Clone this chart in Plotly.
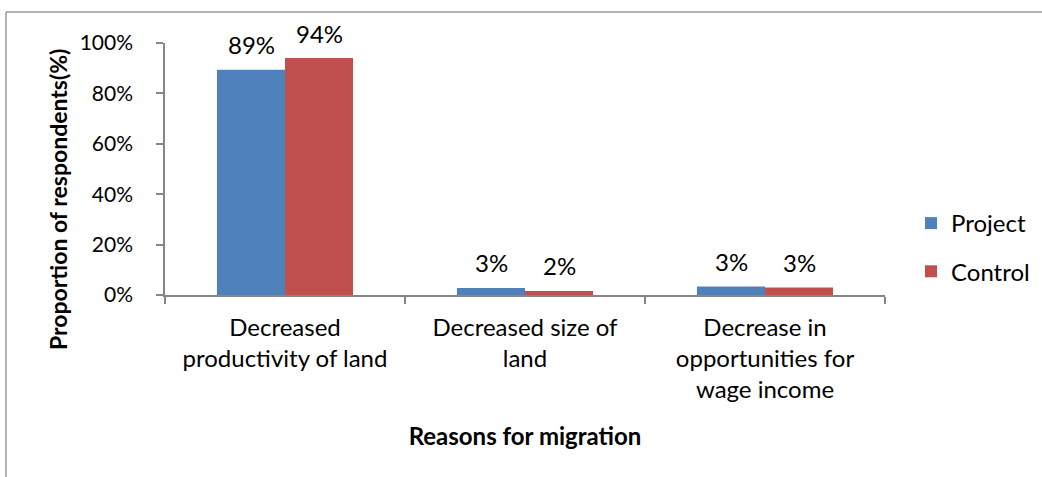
import plotly.graph_objects as go

categories = ["Decreased<br>productivity of land", "Decreased size of<br>land",
              "Decrease in<br>opportunities for<br>wage income"]
project = [0.894, 0.028, 0.034]
control = [0.94, 0.016, 0.030]
series_names = ["Project", "Control"]
colors = ["#4F81BD", "#C0504D"]
yticks = [0, 0.2, 0.4, 0.6, 0.8, 1.0]
y_title = "<b>Proportion of respondents(%)</b>"
x_title = "<b>Reasons for migration</b>"

FONT = "Lato, Calibri, sans-serif"
FS = 24
W, H = 1042, 477
L, R, T, B = 165, 157, 43, 182
pw, ph = W - L - R, H - T - B

fig = go.Figure()
for name, vals, col, grp in zip(series_names, [project, control], colors, ["a", "b"]):
    fig.add_trace(go.Bar(name=name, x=categories, y=vals, marker=dict(color=col, line=dict(width=0)),
                         legendgroup=grp))

# data labels
for vals, shift in zip([project, control], [-34, 34]):
    for c, v in zip(categories, vals):
        fig.add_annotation(x=c, y=v, xref="x", yref="y", text=f"{round(v*100):.0f}%",
                           showarrow=False, xshift=shift, yshift=25, yanchor="middle",
                           font=dict(family=FONT, size=FS, color="#000000"))

def px_x(p):
    return (p - L) / pw

def px_y(p):
    return (H - B - p) / ph

# y-axis title (placed like the original, slightly below the axis centre)
fig.add_annotation(xref="paper", yref="paper", x=px_x(58), y=px_y(200), text=y_title,
                   textangle=-90, showarrow=False, xanchor="center", yanchor="middle",
                   font=dict(family=FONT, size=23, color="#000000"))

# outer chart frame (top and left edges visible)
fig.add_shape(type="line", xref="paper", yref="paper", x0=px_x(6), x1=px_x(1060),
              y0=px_y(12), y1=px_y(12), line=dict(color="#9A9A9A", width=1.5))
fig.add_shape(type="line", xref="paper", yref="paper", x0=px_x(6), x1=px_x(6),
              y0=px_y(12), y1=px_y(490), line=dict(color="#9A9A9A", width=1.5))

fig.update_layout(
    width=W, height=H,
    margin=dict(l=L, r=R, t=T, b=B, pad=0, autoexpand=False),
    paper_bgcolor="white", plot_bgcolor="white",
    barmode="group", bargap=0.433, bargroupgap=0,
    font=dict(family=FONT, size=FS, color="#000000"),
    showlegend=True,
    legend=dict(xref="container", yref="container", x=911 / W, y=1 - 201 / H,
                xanchor="left", yanchor="top",
                traceorder="grouped", tracegroupgap=14,
                font=dict(family=FONT, size=FS, color="#000000"),
                bgcolor="rgba(0,0,0,0)", itemwidth=30),
    xaxis=dict(type="category", showline=True, linecolor="#868686", linewidth=1.5,
               ticks="outside", tickson="boundaries", ticklen=7, tickcolor="#868686", tickwidth=1.5,
               showgrid=False, zeroline=False, ticklabelstandoff=10,
               tickfont=dict(family=FONT, size=FS),
               title=dict(text=x_title, font=dict(family=FONT, size=FS), standoff=26)),
    yaxis=dict(range=[0, 1], tickvals=yticks, tickformat=".0%", showline=True, linecolor="#868686",
               linewidth=1.5, ticks="outside", ticklen=7, tickcolor="#868686", tickwidth=1.5,
               showgrid=False, zeroline=False, ticklabelstandoff=19,
               tickfont=dict(family=FONT, size=21)),
)

fig.write_html("out.html", config={"displayModeBar": False},
               post_script="document.body.style.margin='0';")
